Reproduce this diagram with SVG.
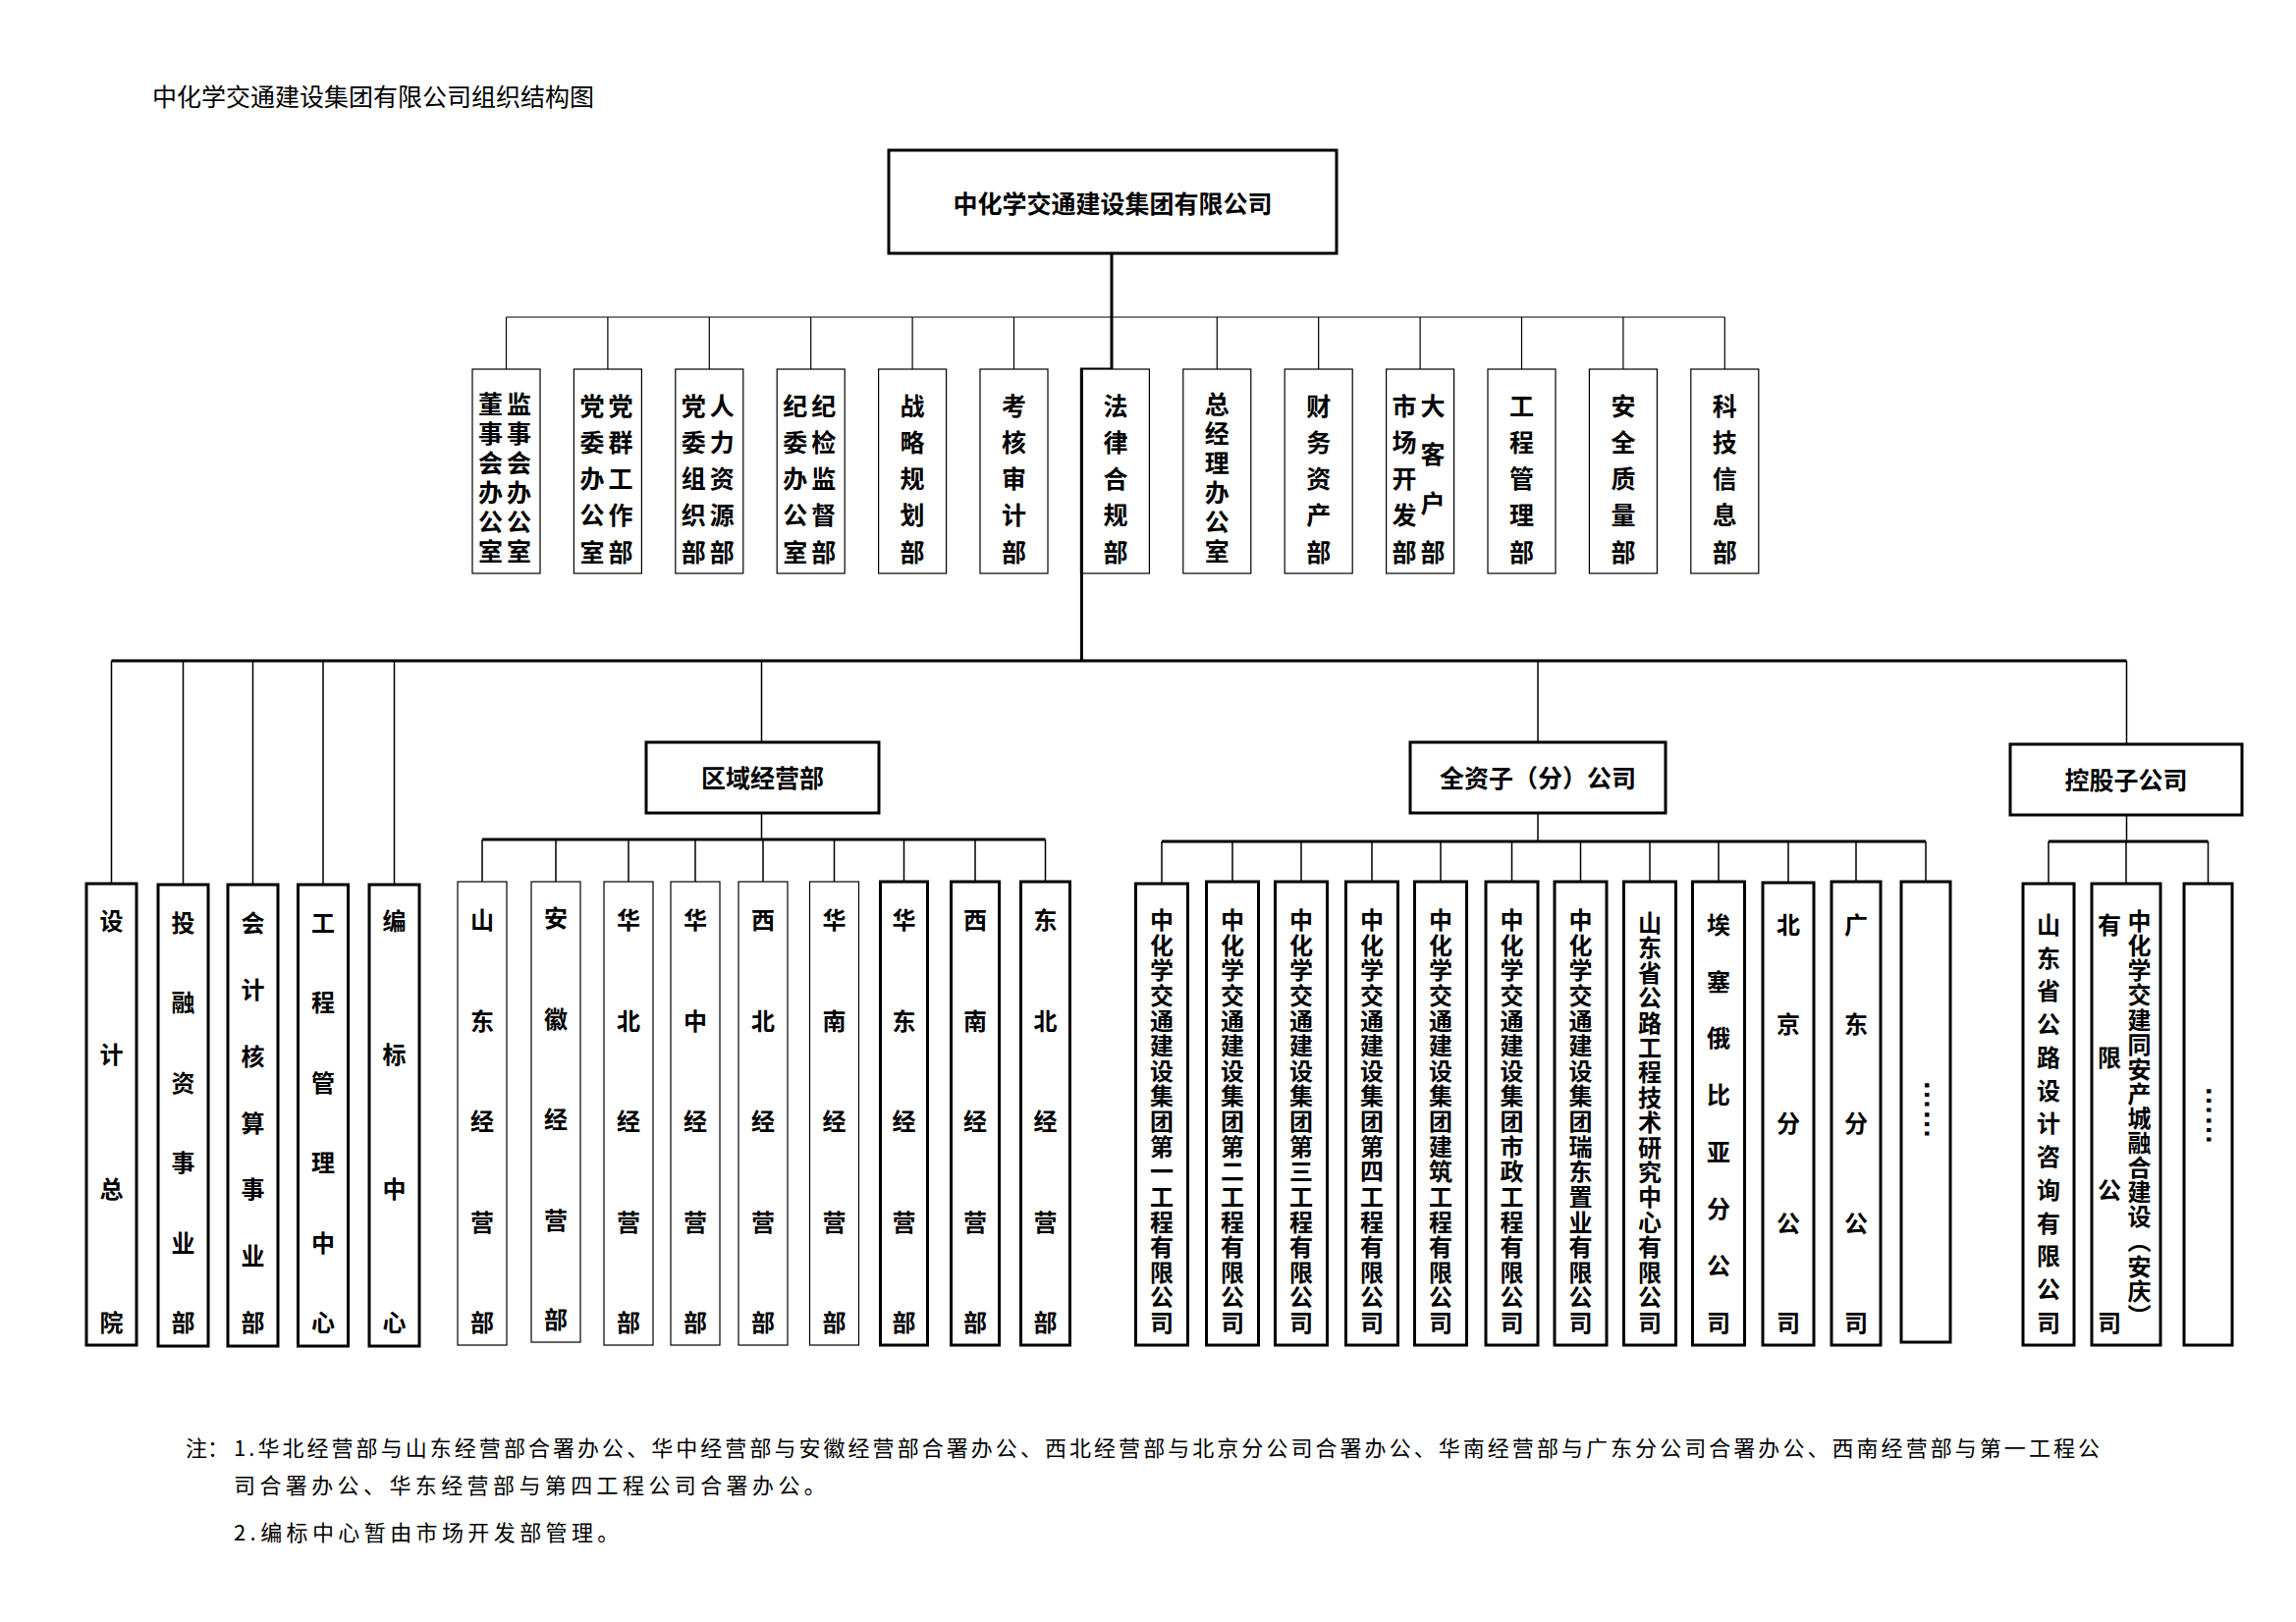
<svg xmlns="http://www.w3.org/2000/svg" width="2338" height="1652" viewBox="0 0 2338 1652">
<style>
.bg{fill:#fff}
.b1{fill:#fff;stroke:#000;stroke-width:1.2}
.b3{fill:#fff;stroke:#000;stroke-width:3}
.t{font-family:"Noto Sans CJK SC","Noto Sans CJK TC",sans-serif;font-weight:bold;text-anchor:middle;fill:#000}
.f25{font-size:25px}
.f24{font-size:24px}
.n{font-family:"Noto Sans CJK SC",sans-serif;font-weight:normal;fill:#000}
.c1{stroke:#000;stroke-width:1.2;fill:none}
.c15{stroke:#000;stroke-width:1.5;fill:none}
.c3{stroke:#000;stroke-width:3;fill:none}
.dots{font-family:"Liberation Sans",sans-serif;font-size:30px;font-weight:bold;fill:#000}
</style>
<rect class="bg" x="0" y="0" width="2338" height="1652"/>

<text id="title" class="n" x="155" y="108" font-size="25">中化学交通建设集团有限公司组织结构图</text>

<g id="connectors">
  <path class="c3" d="M1132,258 V376 H1101.4 V673"/>
  <path class="c1" d="M515.5,323 H1756.3"/>
  <path class="c1" d="M515.5,323 V376 M618.9,323 V376 M722.3,323 V376 M825.7,323 V376 M929.1,323 V376 M1032.5,323 V376 M1239.3,323 V376 M1342.7,323 V376 M1446.1,323 V376 M1549.5,323 V376 M1652.9,323 V376 M1756.3,323 V376"/>
  <path class="c3" d="M113.5,673 H2165.5"/>
  <path class="c15" d="M113.5,673 V900 M186.5,673 V900 M257.5,673 V900 M329,673 V900 M401.5,673 V900"/>
  <path class="c15" d="M775.5,673 V756 M775.5,828 V855"/>
  <path class="c3" d="M491,855 H1064.5"/>
  <path class="c15" d="M491,855 V898 M566,855 V898 M640,855 V898 M708,855 V898 M777,855 V898 M849.5,855 V898 M920.5,855 V898 M993,855 V898 M1064.5,855 V898"/>
  <path class="c15" d="M1566,673 V756 M1566,828 V857"/>
  <path class="c3" d="M1183,857 H1961"/>
  <path class="c15" d="M1183,857 V899 M1255,857 V899 M1325,857 V899 M1397,857 V899 M1467,857 V899 M1539.5,857 V899 M1609.5,857 V899 M1680,857 V899 M1750,857 V899 M1821,857 V899 M1890,857 V899 M1961,857 V899"/>
  <path class="c15" d="M2165.5,673 V758 M2165.5,830 V857"/>
  <path class="c3" d="M2086,857 H2248.5"/>
  <path class="c15" d="M2086,857 V899 M2165,857 V899 M2248.5,857 V899"/>
</g>

<g id="n-root">
  <rect class="b3" x="905" y="153" width="456" height="105"/>
  <text class="t f25" x="1133" y="217">中化学交通建设集团有限公司</text>
</g>

<!-- Row 1 -->
<g id="n-dongshi">
  <rect class="b1" x="481" y="376" width="69" height="208"/>
  <text class="t f25" transform="translate(499.5,0)" x="0 0 0 0 0 0" y="420.5 450.5 480.5 510.5 540.5 570.5">董事会办公室</text>
  <text class="t f25" transform="translate(528.5,0)" x="0 0 0 0 0 0" y="420.5 450.5 480.5 510.5 540.5 570.5">监事会办公室</text>
</g>
<g id="n-dangwei">
  <rect class="b1" x="584.4" y="376" width="69" height="208"/>
  <text class="t f25" transform="translate(602.9,0)" x="0 0 0 0 0" y="422.5 459.8 497 534.3 571.5">党委办公室</text>
  <text class="t f25" transform="translate(631.9,0)" x="0 0 0 0 0" y="422.5 459.8 497 534.3 571.5">党群工作部</text>
</g>
<g id="n-zuzhi">
  <rect class="b1" x="687.8" y="376" width="69" height="208"/>
  <text class="t f25" transform="translate(706.3,0)" x="0 0 0 0 0" y="422.5 459.8 497 534.3 571.5">党委组织部</text>
  <text class="t f25" transform="translate(735.3,0)" x="0 0 0 0 0" y="422.5 459.8 497 534.3 571.5">人力资源部</text>
</g>
<g id="n-jiwei">
  <rect class="b1" x="791.2" y="376" width="69" height="208"/>
  <text class="t f25" transform="translate(809.7,0)" x="0 0 0 0 0" y="422.5 459.8 497 534.3 571.5">纪委办公室</text>
  <text class="t f25" transform="translate(838.7,0)" x="0 0 0 0 0" y="422.5 459.8 497 534.3 571.5">纪检监督部</text>
</g>
<g id="n-zhanlue">
  <rect class="b1" x="894.6" y="376" width="69" height="208"/>
  <text class="t f25" transform="translate(929.1,0)" x="0 0 0 0 0" y="422.5 459.8 497 534.3 571.5">战略规划部</text>
</g>
<g id="n-kaohe">
  <rect class="b1" x="998" y="376" width="69" height="208"/>
  <text class="t f25" transform="translate(1032.5,0)" x="0 0 0 0 0" y="422.5 459.8 497 534.3 571.5">考核审计部</text>
</g>
<g id="n-falv">
  <rect class="b1" x="1101.4" y="376" width="69" height="208"/>
  <path class="c3" d="M1101.4,376 V584"/>
  <text class="t f25" transform="translate(1135.9,0)" x="0 0 0 0 0" y="422.5 459.8 497 534.3 571.5">法律合规部</text>
</g>
<g id="n-zongjingli">
  <rect class="b1" x="1204.8" y="376" width="69" height="208"/>
  <text class="t f25" transform="translate(1239.3,0)" x="0 0 0 0 0 0" y="420.5 450.5 480.5 510.5 540.5 570.5">总经理办公室</text>
</g>
<g id="n-caiwu">
  <rect class="b1" x="1308.2" y="376" width="69" height="208"/>
  <text class="t f25" transform="translate(1342.7,0)" x="0 0 0 0 0" y="422.5 459.8 497 534.3 571.5">财务资产部</text>
</g>
<g id="n-shichang">
  <rect class="b1" x="1411.6" y="376" width="69" height="208"/>
  <text class="t f25" transform="translate(1430.1,0)" x="0 0 0 0 0" y="422.5 459.8 497 534.3 571.5">市场开发部</text>
  <text class="t f25" transform="translate(1459.1,0)" x="0 0 0 0" y="422.5 472.2 521.8 571.5">大客户部</text>
</g>
<g id="n-gongcheng">
  <rect class="b1" x="1515" y="376" width="69" height="208"/>
  <text class="t f25" transform="translate(1549.5,0)" x="0 0 0 0 0" y="422.5 459.8 497 534.3 571.5">工程管理部</text>
</g>
<g id="n-anquan">
  <rect class="b1" x="1618.4" y="376" width="69" height="208"/>
  <text class="t f25" transform="translate(1652.9,0)" x="0 0 0 0 0" y="422.5 459.8 497 534.3 571.5">安全质量部</text>
</g>
<g id="n-keji">
  <rect class="b1" x="1721.8" y="376" width="69" height="208"/>
  <text class="t f25" transform="translate(1756.3,0)" x="0 0 0 0 0" y="422.5 459.8 497 534.3 571.5">科技信息部</text>
</g>

<!-- Group headers -->
<g id="n-quyu">
  <rect class="b3" x="658" y="756" width="237" height="72"/>
  <text class="t f25" x="776.5" y="801.5">区域经营部</text>
</g>
<g id="n-quanzi">
  <rect class="b3" x="1436" y="756" width="260" height="72"/>
  <text class="t f25" x="1566" y="801.5">全资子（分）公司</text>
</g>
<g id="n-konggu">
  <rect class="b3" x="2047" y="758" width="236" height="72"/>
  <text class="t f25" x="2165" y="803.5">控股子公司</text>
</g>

<!-- Row 2 left -->
<g id="n-sheji">
  <rect class="b3" x="88" y="900" width="51" height="470"/>
  <text class="t f24" transform="translate(113.5,0)" x="0 0 0 0" y="947 1083.3 1219.7 1356">设计总院</text>
</g>
<g id="n-tourong">
  <rect class="b3" x="161" y="901" width="51" height="470"/>
  <text class="t f24" transform="translate(186.5,0)" x="0 0 0 0 0 0" y="949 1030.4 1111.8 1193.2 1274.6 1356">投融资事业部</text>
</g>
<g id="n-kuaiji">
  <rect class="b3" x="232" y="901" width="51" height="470"/>
  <text class="t f24" transform="translate(257.5,0)" x="0 0 0 0 0 0 0" y="949 1016.8 1084.7 1152.5 1220.3 1288.2 1356">会计核算事业部</text>
</g>
<g id="n-gcglzx">
  <rect class="b3" x="303.5" y="901" width="51" height="470"/>
  <text class="t f24" transform="translate(329,0)" x="0 0 0 0 0 0" y="949 1030.4 1111.8 1193.2 1274.6 1356">工程管理中心</text>
</g>
<g id="n-bianbiao">
  <rect class="b3" x="376" y="901" width="51" height="470"/>
  <text class="t f24" transform="translate(401.5,0)" x="0 0 0 0" y="947 1083.3 1219.7 1356">编标中心</text>
</g>

<!-- Regional -->
<g id="n-shandong">
  <rect class="b1" x="466" y="898" width="50" height="472"/>
  <text class="t f24" transform="translate(491,0)" x="0 0 0 0 0" y="946 1048.5 1151 1253.5 1356">山东经营部</text>
</g>
<g id="n-anhui">
  <rect class="b1" x="541" y="898" width="50" height="469"/>
  <text class="t f24" transform="translate(566,0)" x="0 0 0 0 0" y="944 1046.5 1149 1251.5 1353">安徽经营部</text>
</g>
<g id="n-huabei">
  <rect class="b1" x="615" y="898" width="50" height="472"/>
  <text class="t f24" transform="translate(640,0)" x="0 0 0 0 0" y="946 1048.5 1151 1253.5 1356">华北经营部</text>
</g>
<g id="n-huazhong">
  <rect class="b1" x="683" y="898" width="50" height="472"/>
  <text class="t f24" transform="translate(708,0)" x="0 0 0 0 0" y="946 1048.5 1151 1253.5 1356">华中经营部</text>
</g>
<g id="n-xibei">
  <rect class="b1" x="752" y="898" width="50" height="472"/>
  <text class="t f24" transform="translate(777,0)" x="0 0 0 0 0" y="946 1048.5 1151 1253.5 1356">西北经营部</text>
</g>
<g id="n-huanan">
  <rect class="b1" x="824.5" y="898" width="50" height="472"/>
  <text class="t f24" transform="translate(849.5,0)" x="0 0 0 0 0" y="946 1048.5 1151 1253.5 1356">华南经营部</text>
</g>
<g id="n-huadong">
  <rect class="b3" x="896.5" y="898" width="48" height="472"/>
  <text class="t f24" transform="translate(920.5,0)" x="0 0 0 0 0" y="946 1048.5 1151 1253.5 1356">华东经营部</text>
</g>
<g id="n-xinan">
  <rect class="b3" x="968.5" y="898" width="49" height="472"/>
  <text class="t f24" transform="translate(993,0)" x="0 0 0 0 0" y="946 1048.5 1151 1253.5 1356">西南经营部</text>
</g>
<g id="n-dongbei">
  <rect class="b3" x="1039.5" y="898" width="50" height="472"/>
  <text class="t f24" transform="translate(1064.5,0)" x="0 0 0 0 0" y="946 1048.5 1151 1253.5 1356">东北经营部</text>
</g>

<!-- Wholly owned -->
<g id="n-gs1">
  <rect class="b3" x="1156.5" y="900" width="53" height="470"/>
  <text class="t f24" transform="translate(1183,0)" x="0 0 0 0 0 0 0 0 0 0 0 0 0 0 0 0 0" y="946 971.6 997.3 1022.9 1048.5 1074.1 1099.8 1125.4 1151 1176.6 1202.3 1227.9 1253.5 1279.1 1304.8 1330.4 1356">中化学交通建设集团第一工程有限公司</text>
</g>
<g id="n-gs2">
  <rect class="b3" x="1228.5" y="898" width="53" height="472"/>
  <text class="t f24" transform="translate(1255,0)" x="0 0 0 0 0 0 0 0 0 0 0 0 0 0 0 0 0" y="946 971.6 997.3 1022.9 1048.5 1074.1 1099.8 1125.4 1151 1176.6 1202.3 1227.9 1253.5 1279.1 1304.8 1330.4 1356">中化学交通建设集团第二工程有限公司</text>
</g>
<g id="n-gs3">
  <rect class="b3" x="1298.5" y="898" width="53" height="472"/>
  <text class="t f24" transform="translate(1325,0)" x="0 0 0 0 0 0 0 0 0 0 0 0 0 0 0 0 0" y="946 971.6 997.3 1022.9 1048.5 1074.1 1099.8 1125.4 1151 1176.6 1202.3 1227.9 1253.5 1279.1 1304.8 1330.4 1356">中化学交通建设集团第三工程有限公司</text>
</g>
<g id="n-gs4">
  <rect class="b3" x="1370.5" y="898" width="53" height="472"/>
  <text class="t f24" transform="translate(1397,0)" x="0 0 0 0 0 0 0 0 0 0 0 0 0 0 0 0 0" y="946 971.6 997.3 1022.9 1048.5 1074.1 1099.8 1125.4 1151 1176.6 1202.3 1227.9 1253.5 1279.1 1304.8 1330.4 1356">中化学交通建设集团第四工程有限公司</text>
</g>
<g id="n-jianzhu">
  <rect class="b3" x="1440.5" y="898" width="53" height="472"/>
  <text class="t f24" transform="translate(1467,0)" x="0 0 0 0 0 0 0 0 0 0 0 0 0 0 0 0 0" y="946 971.6 997.3 1022.9 1048.5 1074.1 1099.8 1125.4 1151 1176.6 1202.3 1227.9 1253.5 1279.1 1304.8 1330.4 1356">中化学交通建设集团建筑工程有限公司</text>
</g>
<g id="n-shizheng">
  <rect class="b3" x="1513" y="898" width="53" height="472"/>
  <text class="t f24" transform="translate(1539.5,0)" x="0 0 0 0 0 0 0 0 0 0 0 0 0 0 0 0 0" y="946 971.6 997.3 1022.9 1048.5 1074.1 1099.8 1125.4 1151 1176.6 1202.3 1227.9 1253.5 1279.1 1304.8 1330.4 1356">中化学交通建设集团市政工程有限公司</text>
</g>
<g id="n-ruidong">
  <rect class="b3" x="1583" y="898" width="53" height="472"/>
  <text class="t f24" transform="translate(1609.5,0)" x="0 0 0 0 0 0 0 0 0 0 0 0 0 0 0 0 0" y="946 971.6 997.3 1022.9 1048.5 1074.1 1099.8 1125.4 1151 1176.6 1202.3 1227.9 1253.5 1279.1 1304.8 1330.4 1356">中化学交通建设集团瑞东置业有限公司</text>
</g>
<g id="n-sdgl">
  <rect class="b3" x="1653.5" y="898" width="53" height="472"/>
  <text class="t f24" transform="translate(1680,0)" x="0 0 0 0 0 0 0 0 0 0 0 0 0 0 0 0 0" y="949 974.4 999.8 1025.2 1050.6 1076 1101.4 1126.8 1152.2 1177.6 1203 1228.4 1253.8 1279.2 1304.6 1330 1355.7">山东省公路工程技术研究中心有限公司</text>
</g>
<g id="n-aisai">
  <rect class="b3" x="1723.5" y="898" width="53" height="472"/>
  <text class="t f24" transform="translate(1750,0)" x="0 0 0 0 0 0 0 0" y="950.7 1008.6 1066.4 1124.3 1182.1 1240 1297.9 1355.7">埃塞俄比亚分公司</text>
</g>
<g id="n-beijing">
  <rect class="b3" x="1795" y="899" width="52" height="471"/>
  <text class="t f24" transform="translate(1821,0)" x="0 0 0 0 0" y="950.7 1052 1153.2 1254.5 1355.7">北京分公司</text>
</g>
<g id="n-guangdong">
  <rect class="b3" x="1865" y="898" width="50" height="472"/>
  <text class="t f24" transform="translate(1890,0)" x="0 0 0 0 0" y="950.7 1052 1153.2 1254.5 1355.7">广东分公司</text>
</g>
<g id="n-more1">
  <rect class="b3" x="1936" y="898" width="50" height="469"/>
  <text class="dots" transform="translate(1960,1100) rotate(90)">……</text>
</g>

<!-- Holding -->
<g id="n-sdsj">
  <rect class="b3" x="2060" y="900" width="52" height="470"/>
  <text class="t f24" transform="translate(2086,0)" x="0 0 0 0 0 0 0 0 0 0 0 0 0" y="950.7 984.5 1018.2 1052 1085.7 1119.5 1153.2 1187 1220.7 1254.5 1288.2 1322 1355.7">山东省公路设计咨询有限公司</text>
</g>
<g id="n-tongan">
  <rect class="b3" x="2130" y="900" width="70" height="470"/>
  <text class="t f24" x="2178.5" y="926" letter-spacing="1.1" style="writing-mode:vertical-rl;text-anchor:start">中化学交建同安产城融合建设（安庆）</text>
  <text class="t f24" transform="translate(2148,0)" x="0 0 0 0" y="950.7 1085.7 1220.7 1355.7">有限公司</text>
</g>
<g id="n-more2">
  <rect class="b3" x="2224" y="900" width="49" height="470"/>
  <text class="dots" transform="translate(2247,1106) rotate(90)">……</text>
</g>

<g id="notes">
  <text class="n" x="189" y="1483" font-size="22">注：</text>
  <text class="n" x="238" y="1483" font-size="22" textLength="1900" lengthAdjust="spacing">1.华北经营部与山东经营部合署办公、华中经营部与安徽经营部合署办公、西北经营部与北京分公司合署办公、华南经营部与广东分公司合署办公、西南经营部与第一工程公</text>
  <text class="n" x="238" y="1521" font-size="22" letter-spacing="4.4">司合署办公、华东经营部与第四工程公司合署办公。</text>
  <text class="n" x="238" y="1569" font-size="22" letter-spacing="4.4">2.编标中心暂由市场开发部管理。</text>
</g>
</svg>
